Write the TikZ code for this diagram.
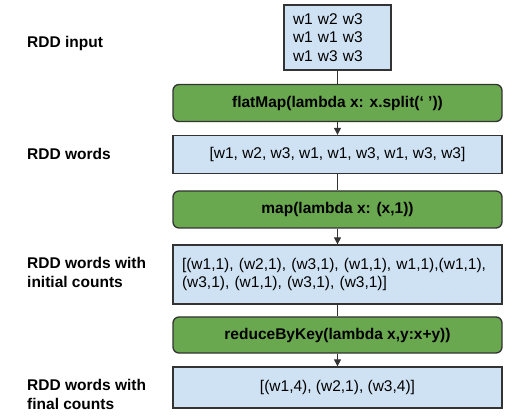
\documentclass[tikz,border=0pt]{standalone}
\usepackage{fontspec}
\setmainfont{Liberation Sans}
\usepackage{tikz}
\usetikzlibrary{arrows.meta}
\usetikzlibrary{positioning}
\definecolor{mblue}{rgb}{0.81, 0.886, 0.953}
\definecolor{mgreen}{rgb}{0.416, 0.659, 0.31}
\definecolor{mline}{rgb}{0.2, 0.2, 0.2}
\tikzset{rdd/.style = {draw = mline, line width = 1.3, fill = mblue, inner sep = 0,
    minimum width = 329, minimum height = 38},
  op/.style = {draw = mline, line width = 1.3, fill = mgreen, rounded corners = 6,
    inner sep = 0, minimum width = 329, minimum height = 37, font = \bfseries},
  lbl/.style = {anchor = west, align = left, inner sep = 0, font = \bfseries},
  flow/.style = {mline, line width = 1.2},
  flowto/.style = {flow, -{Triangle[length = 7, width = 7]}}}

\begin{document}
\begin{tikzpicture}[x=1pt, y=1pt]
      \fontsize{15.5}{18.5}\selectfont
      \useasboundingbox (0, 0) rectangle (510, 417);

      \node [rdd, minimum width = 107, minimum height = 65, text width = 89, align = left]
        (input) at (337.5, 379.5) {w1 w2 w3\\w1 w1 w3\\w1 w3 w3};
      \node [op] (flat) at (337.5, 314) {flatMap(lambda x: x.split(‘ ’))};
      \node [rdd] (words) at (337.5, 262.5) {[w1, w2, w3, w1, w1, w3, w1, w3, w3]};
      \node [op] (map) at (337.5, 207.5) {map(lambda x: (x,1))};
      \node [rdd, minimum height = 59, text width = 311, align = left] (init) at (337.5, 142.5)
        {[(w1,1), (w2,1), (w3,1), (w1,1), w1,1),(w1,1),\\(w3,1), (w1,1), (w3,1), (w3,1)]};
      \node [op, minimum height = 36] (reduce) at (337.5, 82) {reduceByKey(lambda x,y:x+y))};
      \node [rdd, minimum height = 41] (final) at (337.5, 29.5) {[(w1,4), (w2,1), (w3,4)]};

      \draw [flow] (input) -- (flat);
      \draw [flowto] (flat) -- (words);
      \draw [flow] (words) -- (map);
      \draw [flowto] (map) -- (init);
      \draw [flow] (init) -- (reduce);
      \draw [flowto] (reduce) -- (final);

      \node [lbl] (linput) at (27, 374) {RDD input};
      \node [lbl] (lwords) at (27, 263) {RDD words};
      \node [lbl] (linit) at (27, 144.5) {RDD words with\\initial counts};
      \node [lbl] (lfinal) at (27, 22.5) {RDD words with\\final counts};
    \end{tikzpicture}
\end{document}
